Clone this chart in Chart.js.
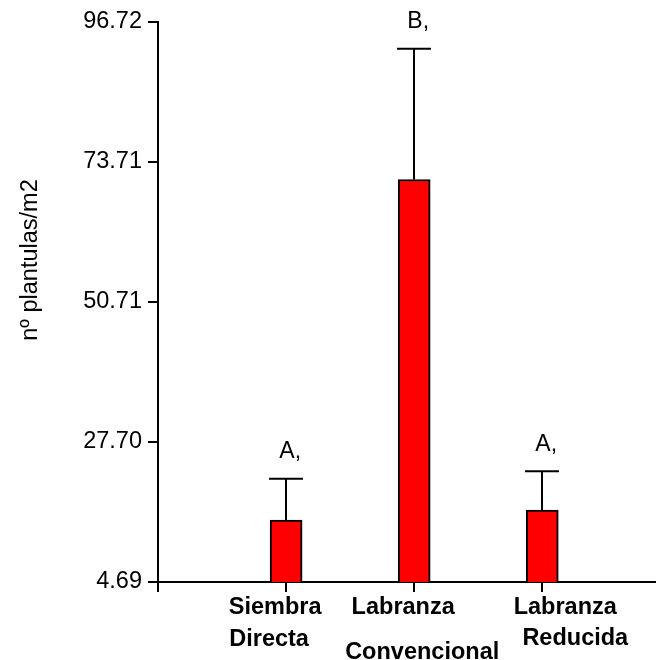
<!DOCTYPE html>
<html>
<head>
<meta charset="utf-8">
<script src="https://cdn.jsdelivr.net/npm/chart.js@4.4.1/dist/chart.umd.min.js"></script>
<style>
  html, body { margin: 0; padding: 0; background: #fff; }
  #wrap { width: 671px; height: 660px; position: relative; }
</style>
</head>
<body>
<div id="wrap"><canvas id="c" width="671" height="660"></canvas></div>
<script>
// Plántulas por m2 según sistema de labranza
const categorias = [['Siembra', 'Directa'], ['Labranza', 'Convencional'], ['Labranza', 'Reducida']];
const posiciones = [1, 2, 3];
const plantulas = [14.85, 70.84, 16.49];
const errorSup = [6.80, 21.47, 6.41];
const letras = ['A,', 'B,', 'A,'];
const yTicks = [4.69, 27.70, 50.71, 73.71, 96.72];
const tituloY = 'nº plantulas/m2';

const FONT = "'Liberation Sans', Arial, Helvetica, sans-serif";

// Barras de error (solo hacia arriba) con su letra de significancia
const errorBars = {
  id: 'errorBars',
  afterDatasetsDraw(chart) {
    const { ctx, scales: { x, y } } = chart;
    ctx.save();
    ctx.strokeStyle = '#000';
    ctx.lineWidth = 2;
    ctx.fillStyle = '#000';
    ctx.font = '23px ' + FONT;
    ctx.textBaseline = 'middle';
    ctx.textAlign = 'left';
    posiciones.forEach((p, i) => {
      const px = Math.round(x.getPixelForValue(p));
      const yTop = y.getPixelForValue(plantulas[i] + errorSup[i]);
      const yBar = y.getPixelForValue(plantulas[i]);
      ctx.beginPath();
      ctx.moveTo(px, yTop);
      ctx.lineTo(px, yBar);
      ctx.moveTo(px - 17, yTop);
      ctx.lineTo(px + 17, yTop);
      ctx.stroke();
      const wA = ctx.measureText(letras[i][0]).width;
      ctx.fillText(letras[i], px - wA / 2 + 1, yTop - 27);
    });
    ctx.restore();
  }
};

// Rótulos de categorías en dos líneas bajo el eje x
const etiquetasX = {
  id: 'etiquetasX',
  afterDraw(chart) {
    const { ctx, scales: { x } } = chart;
    const desplaz = [
      [[-11, 608], [-17, 640]],
      [[-11, 608], [8, 653]],
      [[23, 608], [33, 639]]
    ];
    ctx.save();
    ctx.fillStyle = '#000';
    ctx.font = 'bold 23.5px ' + FONT;
    ctx.textAlign = 'center';
    ctx.textBaseline = 'middle';
    categorias.forEach((lineas, i) => {
      const px = x.getPixelForValue(posiciones[i]);
      lineas.forEach((t, j) => {
        ctx.fillText(t, px + desplaz[i][j][0], desplaz[i][j][1]);
      });
    });
    // título del eje y
    ctx.font = '23.5px ' + FONT;
    ctx.translate(31, 260);
    ctx.rotate(-Math.PI / 2);
    ctx.fillText(tituloY, 0, 0);
    ctx.restore();
  }
};

new Chart(document.getElementById('c'), {
  type: 'bar',
  data: {
    datasets: [{
      data: posiciones.map((p, i) => ({ x: p, y: plantulas[i] })),
      backgroundColor: '#ff0000',
      borderColor: '#000000',
      borderWidth: 2,
      borderSkipped: 'start',
      barThickness: 32
    }]
  },
  options: {
    responsive: false,
    animation: false,
    devicePixelRatio: 1,
    layout: { padding: { top: 22, right: 16, left: 0, bottom: 0 } },
    plugins: { legend: { display: false }, tooltip: { enabled: false } },
    scales: {
      x: {
        type: 'linear',
        offset: false,
        min: 0,
        max: 3.88,
        afterBuildTicks: s => { s.ticks = [0, 1, 2, 3].map(v => ({ value: v })); },
        afterFit: s => { s.height = 78; },
        ticks: { display: false },
        grid: { display: true, offset: false, drawOnChartArea: false, drawTicks: true, tickLength: 10, color: '#000', lineWidth: 2 },
        border: { display: true, color: '#000', width: 2 }
      },
      y: {
        min: 4.69,
        max: 96.72,
        afterBuildTicks: s => { s.ticks = yTicks.map(v => ({ value: v })); },
        afterFit: s => { s.width = 158; },
        ticks: {
          color: '#000',
          padding: 6,
          font: { family: FONT, size: 23.5 },
          callback: v => Number(v).toFixed(2)
        },
        grid: { display: true, drawOnChartArea: false, drawTicks: true, tickLength: 10, color: '#000', lineWidth: 2 },
        border: { display: true, color: '#000', width: 2 }
      }
    }
  },
  plugins: [errorBars, etiquetasX]
});
</script>
</body>
</html>
